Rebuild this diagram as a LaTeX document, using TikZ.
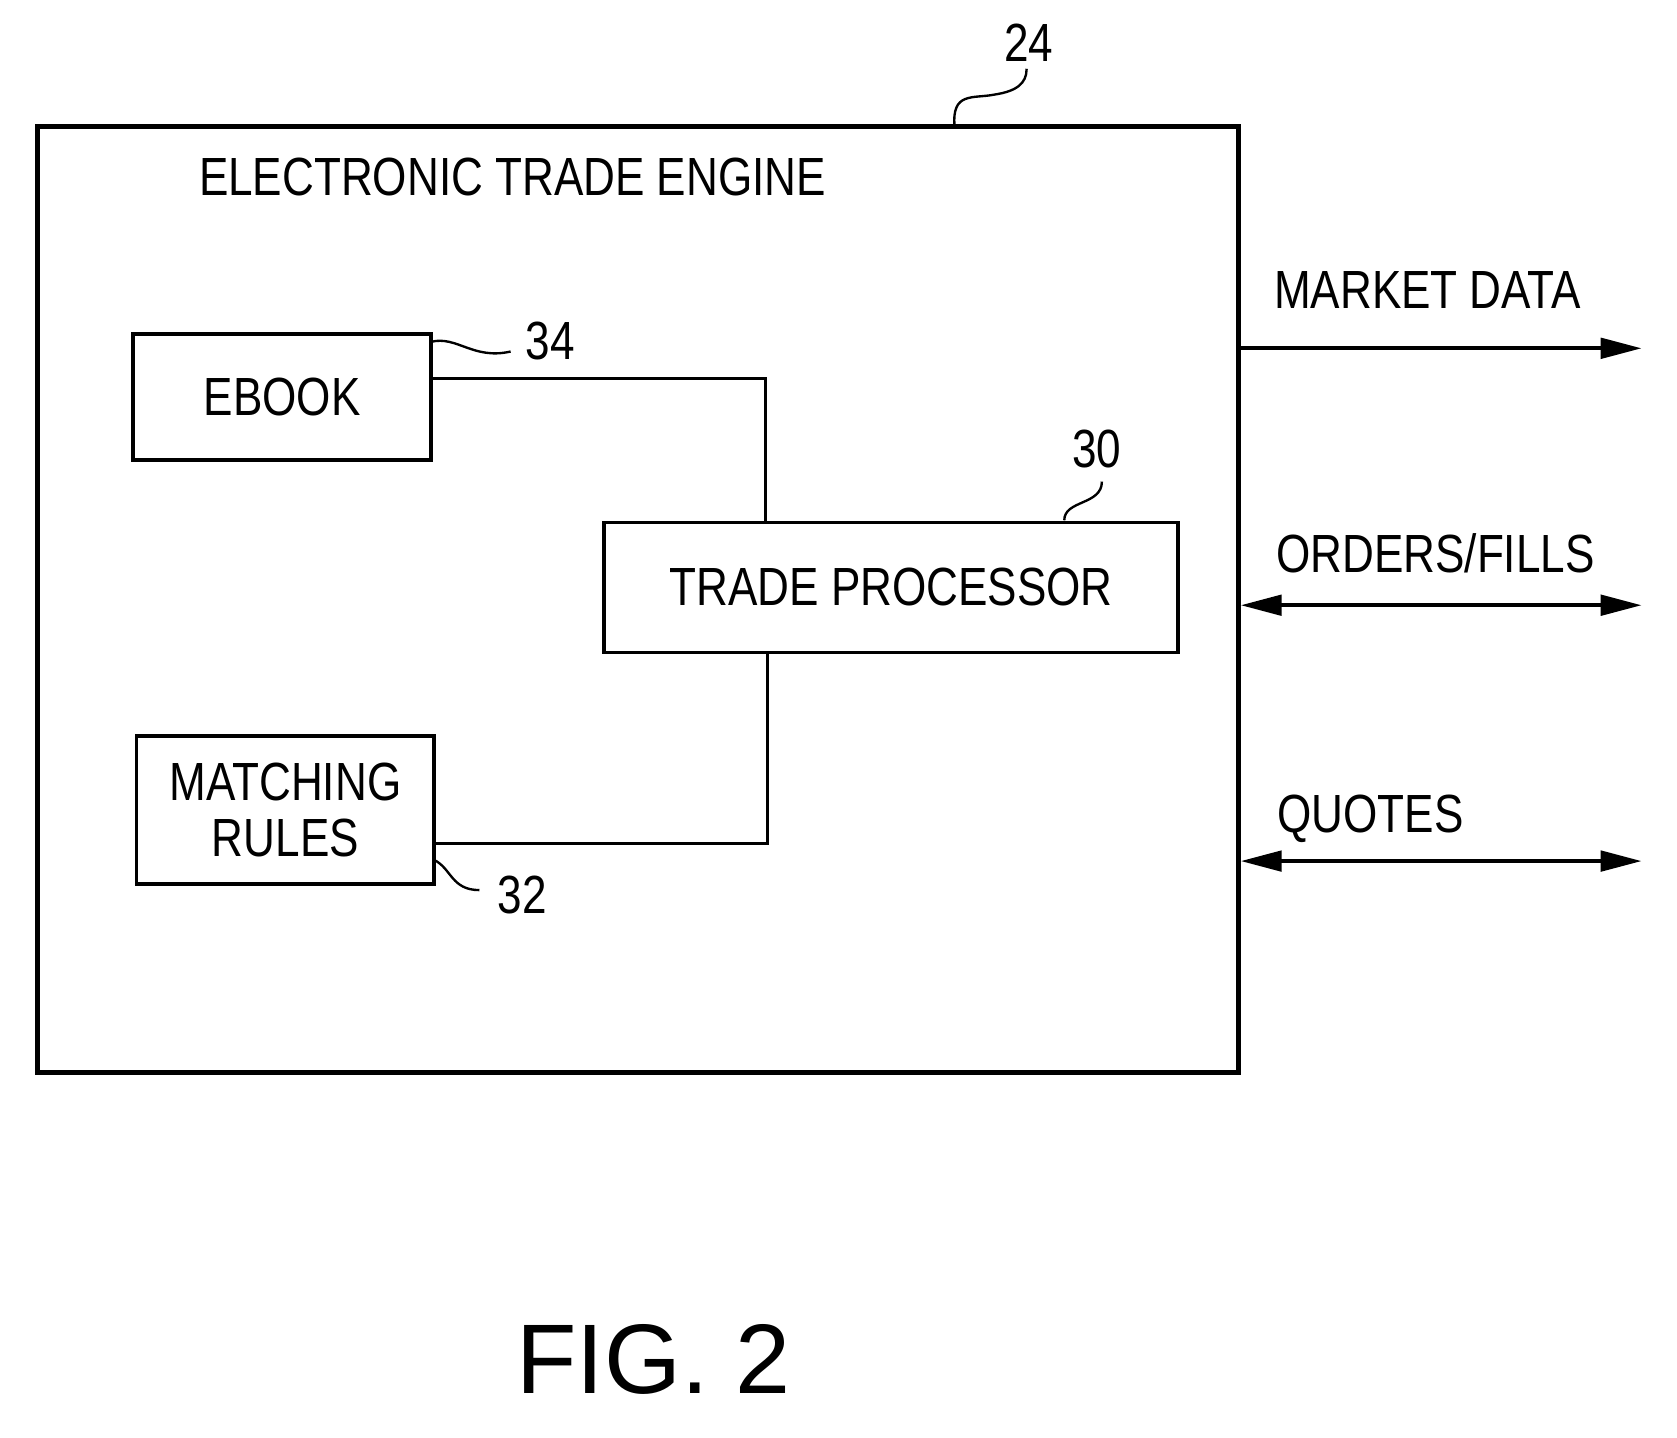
\documentclass[tikz,border=0pt]{standalone}
\usepackage{fontspec}
\setmainfont{Liberation Sans}
\usepackage{tikz}
\usetikzlibrary{arrows.meta,positioning}
\tikzset{>={Triangle[length=38pt,width=19pt]}}

\begin{document}
\begin{tikzpicture}[x=1pt,y=-1pt,
                          blk/.style={draw, line width=3.5pt, black, inner sep=0, align=center,
                                      font=\fontsize{50}{50}\selectfont},
                          lbl/.style={inner sep=0, font=\fontsize{50}{54}\selectfont},
                          wire/.style={line width=3pt, black},
                          lead/.style={line width=2.2pt, black},
                          io/.style={line width=3.5pt, black},
                         ]

\useasboundingbox (0,0) rectangle (1560,1337);

% outer engine box
\node[draw, line width=4.5pt, minimum width=1117pt, minimum height=880pt, inner sep=0] (ete) at (593.5,558) {};
\node[lbl, anchor=west] (title) at (185,165) {\scalebox{0.82}[1]{ELECTRONIC TRADE ENGINE}};

% inner blocks
\node[blk, minimum width=277pt, minimum height=117pt] (ebook) at (262.5,369.5) {\scalebox{0.82}[1]{EBOOK}};
\node[blk, minimum width=534pt, minimum height=121pt] (tp) at (829,546.5) {\scalebox{0.82}[1]{TRADE PROCESSOR}};
\node[blk, minimum width=277pt, minimum height=137pt] (mr) at (265.5,753.5) {\scalebox{0.82}[1]{MATCHING}\\[2pt]\scalebox{0.82}[1]{RULES}};

% connections
\coordinate (e1) at (401,352);
\coordinate (m1) at (404,785);
\draw[wire] (e1) -| (tp.north -| 712,0);
\draw[wire] (tp.south -| 714,0) |- (m1);

% reference numerals
\node[lbl] (n24) at (957,40) {\scalebox{0.82}[1]{24}};
\node[lbl] (n34) at (512,317) {\scalebox{0.82}[1]{34}};
\node[lbl] (n30) at (1020,418) {\scalebox{0.82}[1]{30}};
\node[lbl] (n32) at (486,833) {\scalebox{0.82}[1]{32}};
\draw[lead] (888,118) .. controls (885,85) and (905,92) .. (925,88) .. controls (945,85) and (955,78) .. (955,64);
\draw[lead] (401,318) .. controls (425,312) and (440,335) .. (475,327);
\draw[lead] (990,484) .. controls (990,465) and (1025,470) .. (1025,448);
\draw[lead] (404,800) .. controls (420,808) and (420,828) .. (446,828);

% external lines
\coordinate (md) at (1527,324);
\coordinate (of) at (1527,563);
\coordinate (qt) at (1527,801);
\draw[io,->] (ete.east |- md) -- (md);
\draw[io,<->] (ete.east |- of) -- (of);
\draw[io,<->] (ete.east |- qt) -- (qt);
\node[lbl, anchor=west] (mdl) at (1185,270) {\scalebox{0.82}[1]{MARKET DATA}};
\node[lbl, anchor=west] (ofl) at (1187,515) {\scalebox{0.82}[1]{ORDERS/FILLS}};
\node[lbl, anchor=west] (qtl) at (1188,762) {\scalebox{0.82}[1]{QUOTES}};

\node[inner sep=0, font=\fontsize{92}{92}\selectfont] (fig) at (608,1265) {FIG. 2};

\end{tikzpicture}
\end{document}
